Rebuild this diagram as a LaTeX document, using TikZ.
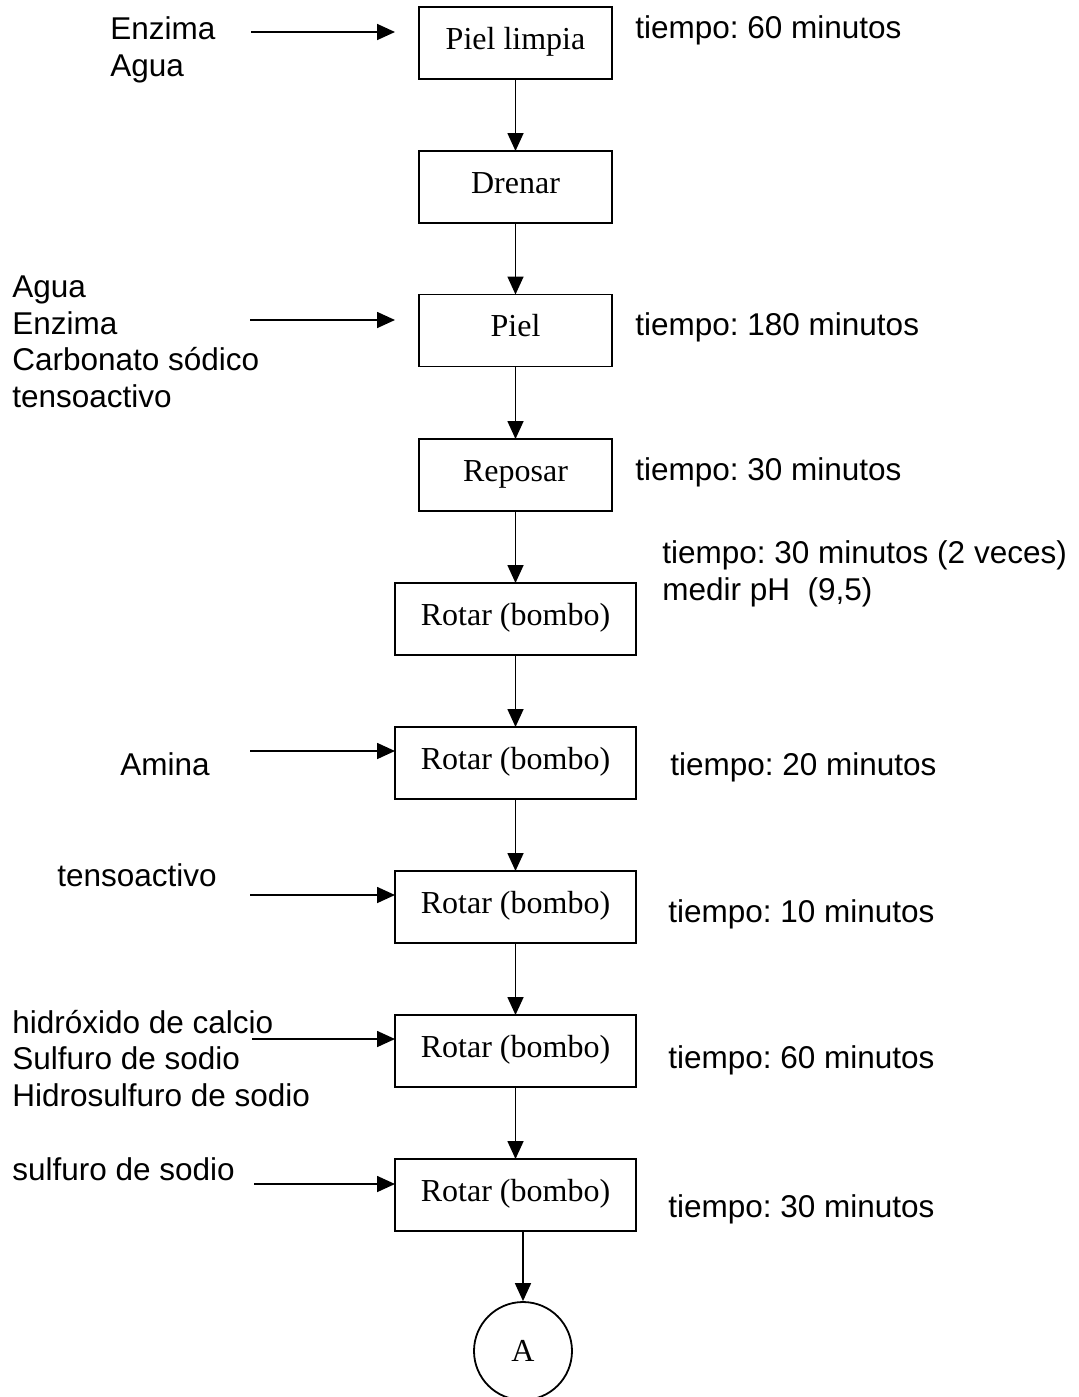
\documentclass[tikz,border=0pt]{standalone}
\usepackage{fontspec}
\setmainfont{Liberation Serif}
\newfontfamily\arialf{Liberation Sans}
\usetikzlibrary{arrows.meta}
\frenchspacing
\begin{document}
\begin{tikzpicture}[x=0.5pt,y=-0.5pt,
  procbox/.style={draw, line width=0.9pt, inner sep=0pt, outer sep=0pt,
    minimum height=36pt, font=\fontsize{16pt}{19pt}\selectfont,
    text height=10pt, text depth=4pt},
  narrowbox/.style={procbox, minimum width=96.5pt},
  widebox/.style={procbox, minimum width=120.5pt},
  lbl/.style={font=\arialf\fontsize{15.75pt}{18.25pt}\selectfont, align=left,
    inner sep=0pt, anchor=base west},
  flow/.style={draw, line width=0.85pt, -{Triangle[length=9pt,width=8pt]}},
]
\useasboundingbox (0,0) rectangle (1078,1397);

% process boxes
\node[narrowbox] (b1) at (515.5,43) {Piel limpia};
\node[narrowbox] (b2) at (515.5,187) {Drenar};
\node[narrowbox] (b3) at (515.5,330.5) {Piel};
\node[narrowbox] (b4) at (515.5,475) {Reposar};
\node[widebox] (b5) at (515.5,619) {Rotar (bombo)};
\node[widebox] (b6) at (515.5,763) {Rotar (bombo)};
\node[widebox] (b7) at (515.5,907) {Rotar (bombo)};
\node[widebox] (b8) at (515.5,1051) {Rotar (bombo)};
\node[widebox] (b9) at (515.5,1195) {Rotar (bombo)};
\node[circle, draw, line width=0.9pt, minimum size=49pt, inner sep=0pt,
  font=\fontsize{16pt}{19pt}\selectfont] (cA) at (523,1351) {A};

% vertical flow
\draw[flow] (b1) -- (b2);
\draw[flow] (b2) -- (b3);
\draw[flow] (b3) -- (b4);
\draw[flow] (b4) -- (b5);
\draw[flow] (b5) -- (b6);
\draw[flow] (b6) -- (b7);
\draw[flow] (b7) -- (b8);
\draw[flow] (b8) -- (b9);
\draw[flow] (b9.south -| cA.north) -- (cA.north);

% input arrows
\coordinate (i1) at (251,32);
\coordinate (i3) at (250,320);
\coordinate (i6) at (250,751);
\coordinate (i7) at (250,895);
\coordinate (i8) at (252,1039);
\coordinate (i9) at (254,1184);
\draw[flow] (i1) -- ([xshift=-12pt]i1 -| b1.west);
\draw[flow] (i3) -- ([xshift=-12pt]i3 -| b3.west);
\draw[flow] (i6) -- (i6 -| b6.west);
\draw[flow] (i7) -- (i7 -| b7.west);
\draw[flow] (i8) -- (i8 -| b8.west);
\draw[flow] (i9) -- (i9 -| b9.west);

% left labels (anchor = baseline of last line)
\node[lbl] (l1) at (110,76) {Enzima\\Agua};
\node[lbl] (l3) at (12,407) {Agua\\Enzima\\Carbonato sódico\\tensoactivo};
\node[lbl] (l6) at (120,775) {Amina};
\node[lbl] (l7) at (57,886) {tensoactivo};
\node[lbl] (l8) at (12,1106) {hidróxido de calcio\\Sulfuro de sodio\\Hidrosulfuro de sodio};
\node[lbl] (l9) at (12,1180) {sulfuro de sodio};

% right labels
\node[lbl] (r1) at (635,39) {tiempo: 60 minutos};
\node[lbl] (r3) at (635,335) {tiempo: 180 minutos};
\node[lbl] (r4) at (635,480) {tiempo: 30 minutos};
\node[lbl] (r5) at (662,600) {tiempo: 30 minutos (2 veces)\\medir pH\ \ (9,5)};
\node[lbl] (r6) at (670,775) {tiempo: 20 minutos};
\node[lbl] (r7) at (668,922) {tiempo: 10 minutos};
\node[lbl] (r8) at (668,1068) {tiempo: 60 minutos};
\node[lbl] (r9) at (668,1217) {tiempo: 30 minutos};
\end{tikzpicture}
\end{document}
